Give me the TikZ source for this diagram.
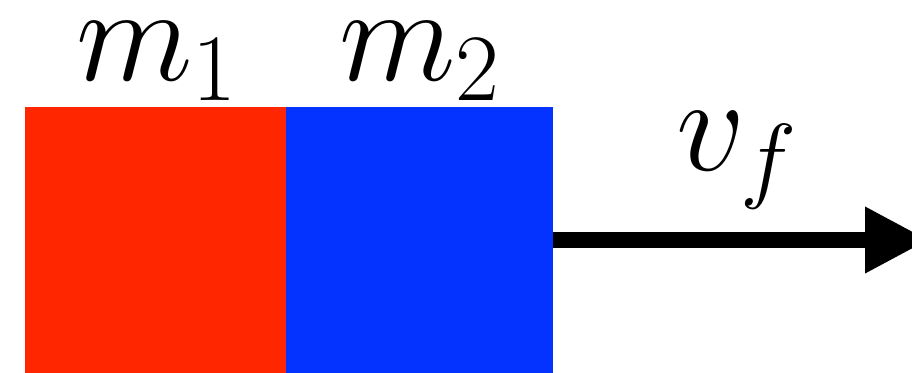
\documentclass[tikz,border=0pt]{standalone}
\usepackage{fix-cm}
\usetikzlibrary{arrows.meta}
\definecolor{boxred}{RGB}{255,38,0}
\definecolor{boxblue}{RGB}{4,51,255}
\tikzset{
  massbox/.style={inner sep=0pt, outer sep=0pt, anchor=north west, draw=none, minimum height=133pt},
  lbl/.style={inner sep=0pt, outer sep=0pt, anchor=base, font=\fontsize{68}{80}\selectfont},
  vel/.style={line width=8pt, -{Triangle[length=32pt,width=31pt]}}
}
\begin{document}
\begin{tikzpicture}[x=0.5pt,y=-0.5pt]
  \useasboundingbox (0,0) rectangle (912,372);
  \node[massbox, fill=boxred, minimum width=130.5pt] (m1box) at (25,107) {};
  \node[massbox, fill=boxblue, minimum width=133.5pt] (m2box) at (286,107) {};
  \coordinate (tip) at (929,240);
  \coordinate (start) at (553,240);
  \draw[vel] (start) -- (tip);
  \node[lbl] (m1) at (157,80) {$m_1$};
  \node[lbl] (m2) at (420,80) {$m_2$};
  \node[lbl] (vf) at (737,170) {$v_f$};
\end{tikzpicture}
\end{document}
